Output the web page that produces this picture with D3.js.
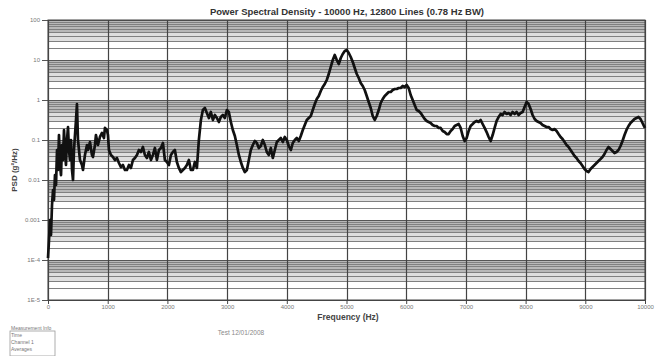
<!DOCTYPE html>
<html>
<head>
<meta charset="utf-8">
<script src="https://cdn.jsdelivr.net/npm/d3@7"></script>
<style>
  body { margin: 0; background: #fff; }
  svg { display: block; font-family: "Liberation Sans", Arial, sans-serif; }
</style>
</head>
<body>
<svg id="chart" width="669" height="356"></svg>
<script>
// Spectrum readout: frequency (Hz) and power spectral density (g^2/Hz)
const freqHz = [
  0,17,33,50,67,84,100,117,134,151,167,184,201,218,234,251,268,285,301,318,335,351,368,385,402,419,435,452,469,485,502,519,536,
  569,586,619,653,669,703,736,753,787,803,837,870,904,937,954,987,1004,1021,
  1054,1088,1121,1155,1188,1222,1255,1289,1322,1356,1389,1423,1456,1490,1523,1556,1590,1623,1657,1690,1724,1757,1791,1824,1858,1891,1925,1958,1992,2025,2059,2092,2125,2159,2192,2226,2259,2293,2326,2360,2393,2427,2460,2494,
  2527,2561,2594,2628,2661,2695,2728,2762,2795,2829,2862,2895,2929,2962,2996,3029,3063,3096,3130,3163,
  3197,3230,3264,3297,3331,3364,3397,3431,3464,3498,3531,3565,3598,3632,3665,3699,3732,3766,3799,3833,
  3866,3900,3933,3966,4000,4033,4067,4100,4134,4167,4201,4234,4268,4301,4335,4368,4402,4435,4469,4502,
  4535,4569,4602,4636,4669,4703,4736,4770,4803,4837,4870,4904,4937,4971,5004,5038,5071,5105,5138,5172,
  5205,5238,5272,5305,5339,5372,5406,5439,5473,5506,5540,5573,5607,5640,5674,5707,5741,5774,5808,5841,
  5874,5908,5941,5975,6008,6042,6075,6109,6142,6176,6209,6243,6276,6310,6343,6376,6410,6443,6477,6510,
  6544,6577,6611,6644,6678,6711,6745,6778,6812,6845,6879,6912,6946,6979,7012,7046,7079,7113,7146,7180,
  7213,7247,7280,7314,7347,7381,7414,7448,7481,7515,7548,7582,7615,7648,7682,7715,7749,7782,7816,7849,
  7883,7916,7950,7983,8017,8050,8084,8117,8151,8184,8217,8251,8284,8318,8351,8385,8418,8452,8485,8519,
  8552,8586,8619,8653,8686,8720,8753,8787,8820,8853,8887,8920,8954,8987,9021,9054,9088,9121,9155,9188,
  9221,9255,9288,9322,9355,9389,9422,9456,9489,9523,9556,9590,9623,9657,9690,9724,9757,9791,9824,9858,
  9891,9925,9958,9992,10000
];

const psd = [
  0.000112,0.000316,0.001,0.000422,0.00237,0.00562,0.00316,0.0133,0.0075,0.0562,0.0178,0.133,0.0237,0.0133,0.075,0.0316,0.178,0.0562,0.0237,0.1,0.211,0.0562,0.0316,0.1,0.0178,0.01,0.0562,0.133,0.316,0.794,0.1,0.0562,0.0316,
  0.0237,0.0178,0.0422,0.075,0.0562,0.0891,0.0422,0.0376,0.075,0.133,0.075,0.119,0.150,0.112,0.200,0.178,0.133,0.0562,
  0.0422,0.0376,0.0316,0.0355,0.0266,0.0211,0.0237,0.0178,0.0178,0.0237,0.0200,0.0316,0.0355,0.0422,0.0562,0.0501,0.0668,0.0422,0.0355,0.0501,0.0316,0.0422,0.0631,0.0316,0.0562,0.0631,0.0841,0.0316,0.0282,0.0237,0.0422,0.0501,0.0562,0.0282,0.0200,0.0158,0.0178,0.0200,0.0237,0.0316,0.0178,0.0178,0.0282,0.0200,
  0.1,0.316,0.562,0.631,0.473,0.355,0.501,0.316,0.422,0.355,0.282,0.376,0.422,0.355,0.562,0.501,0.282,0.178,0.126,0.075,
  0.0422,0.0282,0.0200,0.0158,0.0178,0.0316,0.0562,0.075,0.0944,0.0841,0.0631,0.0708,0.1,0.075,0.0501,0.0422,0.0631,0.0355,0.0562,0.0891,
  0.1,0.112,0.0891,0.119,0.1,0.0708,0.0562,0.0841,0.1,0.112,0.0944,0.126,0.178,0.237,0.316,0.355,0.398,0.562,0.794,1.059,
  1.259,1.679,2.113,2.512,3.162,4.467,6.683,10,13.34,10,7.943,11.22,14.13,16.79,17.78,14.96,11.89,8.913,6.310,4.467,
  3.548,2.661,2.239,1.778,1.259,0.891,0.631,0.398,0.316,0.398,0.562,0.841,1.059,1.259,1.413,1.585,1.585,1.778,1.884,1.884,
  1.995,1.995,2.239,2.113,2.371,1.995,1.334,1.0,0.750,0.562,0.531,0.473,0.398,0.335,0.299,0.282,0.266,0.237,0.224,0.224,
  0.200,0.200,0.168,0.158,0.141,0.141,0.168,0.188,0.224,0.237,0.251,0.200,0.126,0.0944,0.112,0.168,0.224,0.251,0.282,0.299,
  0.282,0.316,0.251,0.200,0.158,0.119,0.0944,0.133,0.200,0.299,0.376,0.447,0.422,0.501,0.447,0.473,0.422,0.501,0.447,0.501,
  0.422,0.473,0.501,0.668,0.891,0.794,0.596,0.422,0.335,0.299,0.282,0.266,0.237,0.224,0.211,0.211,0.188,0.178,0.188,0.168,
  0.141,0.119,0.106,0.0891,0.075,0.0668,0.0562,0.0473,0.0398,0.0355,0.0299,0.0266,0.0224,0.0188,0.0168,0.0158,0.0188,0.0211,0.0237,0.0266,
  0.0299,0.0335,0.0376,0.0447,0.0562,0.0668,0.0596,0.0531,0.0473,0.0501,0.0562,0.0708,0.0944,0.133,0.178,0.224,0.266,0.299,0.335,0.355,
  0.376,0.335,0.266,0.211,0.200
];

const xTicks = [0,1000,2000,3000,4000,5000,6000,7000,8000,9000,10000];
const yTicks = [1e-5,1e-4,1e-3,1e-2,1e-1,1,10,100];
const yTickLabels = ["1E-5","1E-4","0.001","0.01","0.1","1","10","100"];

const titleText = "Power Spectral Density - 10000 Hz, 12800 Lines (0.78 Hz BW)";
const xLabel = "Frequency (Hz)";
const yLabel = "PSD (g\u00B2/Hz)";
const noteText = "Test   12/01/2008";
const infoLines = ["Measurement Info", "Time", "Channel 1", "Averages"];

const svg = d3.select("#chart");
const m = { left: 48, right: 24, top: 20, bottom: 56 };
const W = 669, H = 356;

const x = d3.scaleLinear().domain([0, 10000]).range([m.left, W - m.right]);
const y = d3.scaleLog().domain([1e-5, 100]).range([H - m.bottom, m.top]);

const plot = svg.append("g");

// shaded upper part of each decade (where the minor lines crowd together)
for (let i = 0; i < yTicks.length - 1; i++) {
  const lo = yTicks[i];
  plot.append("rect")
    .attr("x", x(0)).attr("width", x(10000) - x(0))
    .attr("y", y(lo * 10)).attr("height", y(lo * 5) - y(lo * 10))
    .attr("fill", "#b8b8b8");
  plot.append("rect")
    .attr("x", x(0)).attr("width", x(10000) - x(0))
    .attr("y", y(lo * 5)).attr("height", y(lo * 3) - y(lo * 5))
    .attr("fill", "#dedede");
}

// minor log grid
const minor = y.ticks().filter(v => !yTicks.some(t => Math.abs(t - v) / t < 1e-6));
plot.append("g").selectAll("line").data(minor).join("line")
  .attr("x1", x(0)).attr("x2", x(10000))
  .attr("y1", d => Math.round(y(d)) + 0.5).attr("y2", d => Math.round(y(d)) + 0.5)
  .attr("stroke", "#808080").attr("stroke-width", 1);

// major horizontal grid + left axis
const yAxis = d3.axisLeft(y).tickValues(yTicks)
  .tickFormat((d, i) => yTickLabels[i]).tickSize(6).tickPadding(2);
const gy = svg.append("g").attr("transform", `translate(${x(0)},0)`).call(yAxis);
gy.select(".domain").attr("stroke", "#444");
gy.selectAll(".tick line").attr("stroke", "#555");
gy.selectAll(".tick text").attr("fill", "#777").style("font-size", "6px");
plot.append("g").selectAll("line").data(yTicks).join("line")
  .attr("x1", x(0)).attr("x2", x(10000))
  .attr("y1", d => Math.round(y(d)) + 0.5).attr("y2", d => Math.round(y(d)) + 0.5)
  .attr("stroke", "#555").attr("stroke-width", 1);

// vertical grid + bottom axis
plot.append("g").selectAll("line").data(xTicks).join("line")
  .attr("x1", d => Math.round(x(d)) + 0.5).attr("x2", d => Math.round(x(d)) + 0.5)
  .attr("y1", y(100)).attr("y2", y(1e-5))
  .attr("stroke", "#444").attr("stroke-width", 1.2);
const xAxis = d3.axisBottom(x).tickValues(xTicks).tickFormat(d3.format("d")).tickSize(4).tickPadding(1);
const gx = svg.append("g").attr("transform", `translate(0,${y(1e-5)})`).call(xAxis);
gx.select(".domain").attr("stroke", "#444");
gx.selectAll(".tick line").attr("stroke", "#444");
gx.selectAll(".tick text").attr("fill", "#777").style("font-size", "6px");

// frame
svg.append("rect")
  .attr("x", x(0)).attr("y", y(100))
  .attr("width", x(10000) - x(0)).attr("height", y(1e-5) - y(100))
  .attr("fill", "none").attr("stroke", "#444").attr("stroke-width", 1);

// spectrum trace
const n = Math.min(freqHz.length, psd.length);
const pts = d3.range(n).map(i => [freqHz[i], psd[i]]);
svg.append("path")
  .datum(pts)
  .attr("fill", "none")
  .attr("stroke", "#111")
  .attr("stroke-width", 2.7)
  .attr("stroke-linejoin", "round")
  .attr("d", d3.line().x(d => x(d[0])).y(d => y(d[1])));

// texts
svg.append("text").attr("x", 347).attr("y", 15).attr("text-anchor", "middle")
  .style("font-size", "9.5px").style("font-weight", "bold").attr("fill", "#333")
  .text(titleText);
svg.append("text").attr("x", 348).attr("y", 320).attr("text-anchor", "middle")
  .style("font-size", "8.5px").style("font-weight", "bold").attr("fill", "#444")
  .text(xLabel);
svg.append("text").attr("transform", "translate(17,170) rotate(-90)").attr("text-anchor", "middle")
  .style("font-size", "8px").style("font-weight", "bold").attr("fill", "#444")
  .text(yLabel);
svg.append("text").attr("x", 241).attr("y", 335).attr("text-anchor", "middle")
  .style("font-size", "6.5px").attr("fill", "#888")
  .text(noteText);

// small info block, lower left
const info = svg.append("g").attr("transform", "translate(10,326)");
info.append("rect").attr("x", 0).attr("y", 5).attr("width", 45).attr("height", 25)
  .attr("fill", "none").attr("stroke", "#999").attr("stroke-width", 0.8);
info.selectAll("text").data(infoLines).join("text")
  .attr("x", 1).attr("y", (d, i) => 4 + i * 7)
  .style("font-size", "5px").attr("fill", "#777")
  .text(d => d);
</script>
</body>
</html>
